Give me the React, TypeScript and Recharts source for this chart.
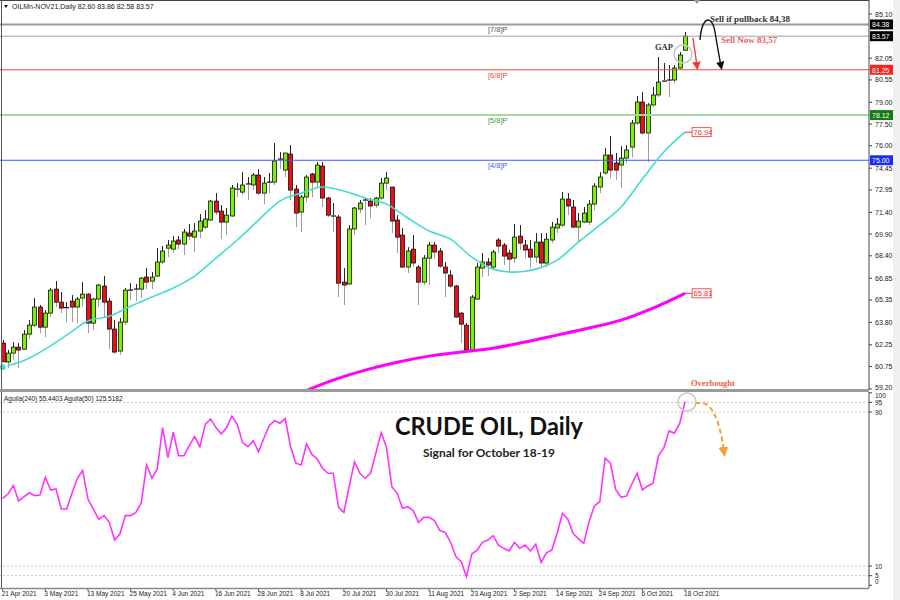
import React from 'react';
import {
  ComposedChart, Bar, Line, XAxis, YAxis, ReferenceLine, ReferenceDot,
} from 'recharts';

// x axis labels, one every 8 sessions
const DATE_TICKS = [
  '21 Apr 2021', '3 May 2021', '13 May 2021', '25 May 2021', '4 Jun 2021', '16 Jun 2021',
  '28 Jun 2021', '8 Jul 2021', '20 Jul 2021', '30 Jul 2021', '11 Aug 2021', '23 Aug 2021',
  '2 Sep 2021', '14 Sep 2021', '24 Sep 2021', '6 Oct 2021', '18 Oct 2021',
];

const OPEN = [
  62.37, 61.06, 61.68, 62.09, 61.95, 62.99, 63.61, 64.86, 63.47, 64.44, 66.10, 65.20, 64.79, 65.27, 64.86, 65.48,
  65.75, 63.75, 65.41, 66.31, 65.27, 63.34, 61.82, 63.82, 65.96, 66.03, 66.10, 66.93, 66.65, 67.00, 67.97, 68.93,
  68.86, 69.49, 69.21, 69.97, 69.69, 70.11, 70.38, 70.87, 72.18, 71.49, 70.73, 71.15, 73.08, 72.80, 73.29, 73.29,
  73.98, 72.73, 73.42, 73.49, 75.01, 74.32, 75.43, 73.01, 71.42, 72.46, 74.05, 73.49, 74.60, 72.39, 71.21, 71.08,
  66.58, 66.45, 70.25, 71.63, 72.18, 72.18, 71.90, 72.39, 73.42, 73.15, 70.87, 69.83, 67.62, 68.86, 67.62, 66.58,
  68.24, 69.14, 68.73, 67.62, 67.07, 66.31, 64.44, 63.61, 61.89, 65.41, 67.55, 67.97, 67.62, 69.49, 69.14, 68.59,
  68.24, 69.76, 69.14, 68.86, 68.31, 69.35, 67.90, 69.49, 70.32, 70.52, 72.32, 71.77, 70.38, 70.73, 70.73, 71.97,
  73.15, 74.12, 75.36, 74.81, 74.67, 75.15, 75.91, 77.57, 79.02, 76.88, 78.82, 79.51, 80.54, 80.47, 80.54, 81.37,
  82.60,
];
const HIGH = [
  62.58, 61.89, 62.44, 62.37, 63.27, 63.96, 65.48, 65.00, 64.65, 66.17, 66.65, 65.89, 65.20, 65.69, 65.55, 66.58,
  65.82, 65.48, 66.45, 67.00, 65.48, 63.96, 64.10, 66.17, 66.51, 66.45, 66.93, 67.55, 67.27, 68.93, 69.07, 69.49,
  69.76, 69.76, 70.25, 70.59, 70.66, 71.28, 71.56, 72.25, 72.73, 71.90, 71.70, 73.29, 73.42, 74.18, 73.84, 74.12,
  74.39, 73.84, 74.12, 76.19, 75.57, 75.50, 76.05, 73.29, 72.60, 73.98, 74.12, 74.88, 74.88, 72.46, 72.04, 71.21,
  67.55, 70.52, 71.77, 72.25, 72.39, 72.39, 72.46, 73.77, 74.18, 73.15, 71.21, 70.32, 69.00, 69.83, 67.76, 68.45,
  69.35, 69.35, 68.93, 67.97, 67.41, 66.38, 64.51, 63.75, 65.69, 67.90, 68.59, 68.24, 68.80, 69.62, 69.28, 68.80,
  70.59, 70.52, 69.49, 69.49, 69.97, 69.97, 69.97, 70.73, 71.01, 72.80, 72.73, 72.25, 71.35, 71.77, 72.25, 73.42,
  74.18, 75.84, 76.67, 75.50, 75.98, 76.05, 77.78, 79.44, 79.71, 78.95, 80.06, 82.13, 81.72, 81.58, 81.58, 82.48,
  83.86,
];
const LOW = [
  60.99, 60.64, 61.19, 60.64, 61.89, 62.65, 63.47, 63.06, 62.78, 64.17, 64.86, 64.44, 63.82, 63.82, 63.75, 64.92,
  63.06, 63.27, 64.86, 64.10, 61.95, 61.61, 61.54, 63.61, 65.34, 65.27, 65.48, 66.10, 66.10, 66.93, 67.83, 68.31,
  68.59, 68.86, 68.45, 69.49, 68.66, 69.62, 70.25, 70.80, 71.21, 69.55, 69.83, 71.08, 72.46, 72.60, 72.25, 72.94,
  72.60, 71.97, 72.73, 73.29, 74.39, 73.84, 72.25, 70.38, 70.04, 72.11, 72.46, 73.08, 71.77, 71.08, 70.04, 65.55,
  65.00, 66.38, 69.83, 71.35, 70.52, 71.01, 71.70, 72.25, 72.94, 69.97, 68.59, 67.55, 67.21, 67.62, 65.00, 66.38,
  66.38, 68.24, 67.55, 65.55, 66.17, 64.10, 62.37, 61.82, 61.75, 65.34, 66.93, 67.00, 67.41, 68.59, 67.76, 67.21,
  67.90, 68.80, 68.24, 67.55, 67.90, 67.55, 67.62, 69.28, 69.97, 70.38, 71.21, 70.32, 69.35, 70.66, 70.52, 71.56,
  72.73, 73.98, 73.77, 73.63, 73.08, 74.81, 75.22, 77.43, 76.74, 74.88, 78.68, 79.37, 80.40, 79.37, 80.33, 81.23,
  82.58,
];
const CLOSE = [
  61.06, 61.68, 62.09, 61.89, 62.99, 63.61, 64.86, 63.47, 64.44, 66.03, 65.20, 64.79, 64.82, 64.86, 65.41, 65.75,
  63.75, 65.41, 66.38, 65.20, 63.34, 61.75, 63.82, 66.03, 66.03, 66.10, 66.86, 66.58, 66.93, 67.97, 68.73, 69.14,
  69.42, 69.21, 70.04, 69.76, 70.11, 70.80, 70.94, 72.18, 71.42, 70.73, 71.21, 73.08, 73.01, 73.29, 73.36, 73.98,
  72.73, 73.42, 73.49, 74.95, 75.08, 75.50, 72.94, 71.35, 72.46, 73.84, 73.49, 74.67, 72.39, 71.21, 71.15, 66.51,
  66.38, 70.25, 71.70, 72.04, 72.25, 71.84, 72.39, 73.42, 73.77, 70.80, 69.69, 67.62, 68.73, 67.90, 66.58, 68.24,
  69.14, 68.66, 67.69, 67.21, 66.31, 64.17, 63.68, 61.89, 65.55, 67.62, 67.97, 67.76, 68.66, 69.07, 68.38, 68.17,
  69.69, 69.28, 68.80, 68.31, 69.35, 67.90, 69.55, 70.38, 70.59, 72.32, 71.84, 70.38, 70.80, 71.35, 71.97, 73.22,
  73.84, 75.36, 74.32, 74.32, 75.15, 75.71, 77.57, 79.02, 76.88, 78.82, 79.51, 80.40, 80.47, 80.54, 81.37, 82.27,
  83.57,
];

// moving averages read at sampled sessions [session, value]
const MA_FAST: [number, number][] = [
  [0, 60.71], [4, 61.16], [8, 61.95], [12, 62.92], [16, 63.89], [20, 64.23], [24, 64.92], [28, 65.55],
  [32, 66.17], [36, 67.0], [40, 68.24], [44, 69.49], [48, 70.87], [52, 72.18], [56, 72.73], [60, 73.15],
  [64, 72.87], [68, 72.39], [72, 71.97], [76, 71.01], [80, 70.11], [84, 69.55], [88, 68.31], [92, 67.48],
  [96, 67.27], [100, 67.48], [104, 68.1], [108, 69.35], [112, 70.52], [116, 71.77], [120, 73.7], [124, 75.57],
  [128, 76.94],
];
const MA_SLOW: [number, number][] = [
  [56, 58.95], [62, 59.81], [68, 60.5], [74, 61.05], [80, 61.47], [86, 61.75], [92, 62.02], [98, 62.44],
  [104, 62.92], [110, 63.41], [116, 63.96], [122, 64.79], [128, 65.81],
];

const AGUILA = [
  45.2, 47.4, 51.8, 43.8, 46.0, 48.1, 46.6, 46.9, 56.1, 49.5, 50.0, 39.6, 39.6, 47.8, 55.6, 59.6,
  44.8, 39.6, 34.4, 36.2, 32.7, 23.5, 26.6, 36.2, 36.2, 37.9, 42.9, 62.5, 55.6, 60.4, 81.9, 66.3,
  79.5, 67.3, 67.3, 72.5, 77.2, 72.0, 83.6, 86.4, 81.9, 78.6, 81.9, 87.9, 83.6, 74.1, 72.0, 75.1,
  69.4, 76.4, 82.9, 85.5, 84.2, 86.6, 72.0, 63.4, 62.5, 73.4, 68.0, 65.6, 60.8, 58.2, 58.2, 40.5,
  37.9, 51.2, 64.2, 58.2, 55.6, 58.2, 68.6, 79.3, 71.7, 51.2, 47.8, 40.0, 40.8, 38.8, 32.7, 35.3,
  35.3, 33.6, 28.4, 27.5, 22.5, 14.9, 12.3, 4.5, 16.3, 18.3, 22.3, 23.5, 25.8, 20.9, 19.2, 17.8,
  22.3, 19.2, 20.9, 17.8, 21.3, 11.9, 16.9, 18.3, 27.0, 37.4, 34.3, 27.0, 24.1, 21.8, 33.1, 41.2,
  43.4, 66.0, 63.4, 49.5, 45.7, 46.4, 52.5, 58.2, 49.5, 51.6, 53.0, 67.3, 71.2, 80.2, 79.0, 84.2,
  95.4,
];

const PRICE_TICKS = [85.1, 82.05, 80.55, 79.0, 77.5, 76.0, 74.45, 72.95, 71.4, 69.9, 68.4, 66.85, 65.35, 63.8, 62.25, 60.75, 59.2];
const OSC_TICKS = [100, 95, 90, 10, 5, 0];
const OSC_LEVELS = [95, 90, 10, 5];

const MURREY_VALUES = [84.38, 81.25, 78.12, 75.0];
const MURREY_NAMES = ['[7/8]P', '[6/8]P', '[5/8]P', '[4/8]P'];
const BID = 83.57;

const MURREY_LINE = ['#9a9a9a', '#f04646', '#a9d6a9', '#3a5cff'];
const MURREY_LINE_W = [2, 1, 2, 1];
const MURREY_TEXT = ['#555', '#f04646', '#3c9a3c', '#3a5cff'];
const MURREY_TAG = ['#000', '#ff2020', '#127a12', '#1a2cff'];

const SLOTS = 163; // sessions + empty shift area on the right
const FONT = '"Liberation Sans", Arial, sans-serif';
const SERIF = '"Liberation Serif", "Times New Roman", serif';

const rows = Array.from({ length: SLOTS }, (_, i) => {
  const has = i < CLOSE.length;
  return {
    idx: i,
    range: has ? [LOW[i], HIGH[i]] : null,
    open: has ? OPEN[i] : null,
    high: has ? HIGH[i] : null,
    low: has ? LOW[i] : null,
    close: has ? CLOSE[i] : null,
    maFast: null as number | null,
    maSlow: null as number | null,
    osc: has ? AGUILA[i] : null,
  };
});
MA_FAST.forEach(([i, v]) => { rows[i].maFast = v; });
MA_SLOW.forEach(([i, v]) => { rows[i].maSlow = v; });

function Candle(props: any) {
  const { x, y, width, height, payload } = props;
  if (!payload || payload.open == null || !isFinite(y)) return <g />;
  const { open, close, high, low } = payload;
  const top = Math.min(y, y + height);
  const h = Math.abs(height);
  const span = high - low || 1;
  const py = (v: number) => top + ((high - v) / span) * h;
  const cx = Math.round(x + width / 2) + 0.5;
  const yO = py(open);
  const yC = py(close);
  const bTop = Math.min(yO, yC);
  const bBot = Math.max(yO, yC);
  const doji = Math.abs(close - open) < 0.09;
  const up = close >= open;
  return (
    <g>
      <line x1={cx} x2={cx} y1={top} y2={bTop} stroke="#222" strokeWidth={1} />
      <line x1={cx} x2={cx} y1={bBot} y2={top + h} stroke="#9c9c9c" strokeWidth={1} />
      {doji ? (
        <line x1={cx - 2.5} x2={cx + 2.5} y1={yC} y2={yC} stroke="#111" strokeWidth={1.2} />
      ) : (
        <rect x={cx - 2} y={bTop} width={4} height={Math.max(bBot - bTop, 1)}
          fill={up ? '#7cf000' : '#e8101a'} stroke="#111" strokeWidth={0.8} />
      )}
    </g>
  );
}

const levelLabel = (k: number) => (props: any) => {
  const vb = props.viewBox || {};
  const { x = 0, y = 0, width = 0 } = vb;
  return (
    <g>
      <text x={x + 488} y={y + 8} fontSize={7.5} fill={MURREY_TEXT[k]} fontFamily={FONT}>{MURREY_NAMES[k]}</text>
      <rect x={x + width + 1} y={y - 5} width={24} height={10} fill={MURREY_TAG[k]} />
      <text x={x + width + 3} y={y + 3} fontSize={7} fill="#fff" fontFamily={FONT}>{MURREY_VALUES[k].toFixed(2)}</text>
    </g>
  );
};

const bidLabel = (props: any) => {
  const { x = 0, y = 0, width = 0 } = props.viewBox || {};
  return (
    <g>
      <rect x={x + width + 1} y={y - 5} width={24} height={10} fill="#000" />
      <text x={x + width + 3} y={y + 3} fontSize={7} fill="#fff" fontFamily={FONT}>{BID.toFixed(2)}</text>
    </g>
  );
};

const maTag = (value: number) => (props: any) => {
  const { x = 0, y = 0 } = props.viewBox || {};
  return (
    <g>
      <line x1={x} x2={x + 7} y1={y} y2={y} stroke="#f03030" />
      <rect x={x + 7} y={y - 4.5} width={19} height={9} fill="#fff" stroke="#f03030" strokeWidth={0.8} />
      <text x={x + 8.5} y={y + 3} fontSize={7.5} fill="#f03030" fontFamily={FONT}>{value.toFixed(2)}</text>
    </g>
  );
};

const PriceTick = (props: any) => {
  const { x, y, payload } = props;
  const v = Number(payload.value);
  const dy = v < 59.5 ? 1.5 : 2.5;
  return (
    <text x={x + 1} y={y + dy} fontSize={7} fill="#222" fontFamily={FONT}>{v.toFixed(2)}</text>
  );
};

const OscTick = (props: any) => {
  const { x, y, payload } = props;
  const v = payload.value;
  const dy = v === 100 ? 5 : v === 0 ? -1 : 2.5;
  return (
    <text x={x + 1} y={y + dy} fontSize={6.5} fill="#222" fontFamily={FONT}>{v}</text>
  );
};

const DateTick = (props: any) => {
  const { x, y, payload } = props;
  const i = Number(payload.value);
  if (i % 8 !== 0 || i > 128) return <g />;
  return (
    <g>
      <line x1={x} x2={x} y1={y - 8} y2={y - 5} stroke="#555" />
      <text x={x - 1} y={y - 0.5} fontSize={6.5} fill="#222" fontFamily={FONT}>{DATE_TICKS[i / 8]}</text>
    </g>
  );
};

export default function App() {
  const last = CLOSE.length - 1;
  return (
    <div style={{ position: 'relative', width: 900, height: 600, background: '#fff', overflow: 'hidden' }}>
      <style>{'body{margin:0} .recharts-surface{overflow:visible}'}</style>
      <div style={{ position: 'absolute', left: 0, top: 390 }}>
        <ComposedChart width={900} height={210} data={rows} barCategoryGap={0}
          margin={{ top: 2, right: 0, bottom: 0, left: 0 }}>
          <XAxis dataKey="idx" scale="band" interval={7} height={12} tick={<DateTick />}
            tickLine={false} axisLine={false} />
          <YAxis orientation="right" width={31} domain={[-1.4, 100.4]} allowDataOverflow
            ticks={OSC_TICKS} interval={0} tick={<OscTick />} tickSize={3}
            axisLine={{ stroke: '#444' }} tickLine={{ stroke: '#444' }} />
          {OSC_LEVELS.map((v) => (
            <ReferenceLine key={v} y={v} stroke="#c4c4c4" strokeDasharray="2 2" />
          ))}
          <Line dataKey="osc" type="linear" stroke="#ff33ff" strokeWidth={1.6} dot={false}
            isAnimationActive={false} />
        </ComposedChart>
      </div>
      <div style={{ position: 'absolute', left: 0, top: 0 }}>
        <ComposedChart width={900} height={390} data={rows} barCategoryGap={0}
          margin={{ top: 0, right: 0, bottom: 0, left: 0 }}>
          <XAxis dataKey="idx" hide />
          <YAxis orientation="right" width={31} domain={[59.13, 86.07]} allowDataOverflow
            ticks={PRICE_TICKS} interval={0} tick={<PriceTick />} tickSize={3}
            axisLine={{ stroke: '#444' }} tickLine={{ stroke: '#444' }} />
          {MURREY_VALUES.map((v, k) => (
            <ReferenceLine key={v} y={v} stroke={MURREY_LINE[k]} strokeWidth={MURREY_LINE_W[k]} label={levelLabel(k)} />
          ))}
          <ReferenceLine y={BID} stroke="#9aa4ae" strokeWidth={1} label={bidLabel} />
          <Bar dataKey="range" shape={<Candle />} isAnimationActive={false} />
          <Line dataKey="maFast" type="monotone" stroke="#42ddd0" strokeWidth={1.6} dot={false}
            connectNulls isAnimationActive={false} />
          <Line dataKey="maSlow" type="monotone" stroke="#ff00ff" strokeWidth={3} dot={false}
            connectNulls isAnimationActive={false} />
          <ReferenceDot x={last} y={MA_FAST[MA_FAST.length - 1][1]} r={0} fill="none" stroke="none"
            label={maTag(MA_FAST[MA_FAST.length - 1][1])} />
          <ReferenceDot x={last} y={MA_SLOW[MA_SLOW.length - 1][1]} r={0} fill="none" stroke="none"
            label={maTag(MA_SLOW[MA_SLOW.length - 1][1])} />
        </ComposedChart>
      </div>
      <svg width={900} height={600} style={{ position: 'absolute', left: 0, top: 0, pointerEvents: 'none' }}>
        <defs>
          <marker id="ahRed" viewBox="0 0 10 10" refX="5" refY="5" markerWidth="6" markerHeight="6" orient="auto-start-reverse">
            <path d="M0,0 L10,5 L0,10 z" fill="#f03c3c" />
          </marker>
          <marker id="ahBlack" viewBox="0 0 10 10" refX="5" refY="5" markerWidth="6" markerHeight="6" orient="auto-start-reverse">
            <path d="M0,0 L10,5 L0,10 z" fill="#111" />
          </marker>
          <marker id="ahOrange" viewBox="0 0 10 10" refX="5" refY="5" markerWidth="5" markerHeight="5" orient="auto-start-reverse">
            <path d="M0,0 L10,5 L0,10 z" fill="#f5a030" />
          </marker>
        </defs>
        {/* frame */}
        <line x1={0} x2={869} y1={0.5} y2={0.5} stroke="#444" />
        <line x1={1.5} x2={1.5} y1={0} y2={589} stroke="#555" />
        <rect x={0} y={389} width={869} height={3} fill="#9a9a9a" />
        <line x1={0} x2={869} y1={588.5} y2={588.5} stroke="#888" strokeWidth={1.5} />
        <rect x={893} y={0} width={7} height={600} fill="#f0f0f0" />
        <path d="M694,0 L700,0 L697,4 z" fill="#8a9aaa" />
        {/* header */}
        <path d="M4,5 L8,5 L6,8 z" fill="#111" />
        <text x={12} y={9} fontSize={7} fill="#222" fontFamily={FONT}>OILMn-NOV21,Daily  82.60 83.86 82.58 83.57</text>
        <text x={4} y={400.5} fontSize={6.5} fill="#222" fontFamily={FONT}>Aguila(240) 55.4403   Aguila(50) 125.5182</text>
        {/* annotations upper */}
        <text x={655} y={50} fontSize={8.5} fontWeight="bold" fill="#333" fontFamily={SERIF}>GAP</text>
        <circle cx={683} cy={54} r={9} fill="none" stroke="#c8c8c8" strokeWidth={1.5} />
        <text x={710} y={21.5} fontSize={9} fontWeight="bold" fill="#333" fontFamily={SERIF}>Sell if pullback 84,38</text>
        <text x={721} y={43} fontSize={9} fontWeight="bold" fill="#f25a5a" fontFamily={SERIF}>Sell Now 83,57</text>
        <line x1={693} y1={38} x2={697} y2={66} stroke="#f03c3c" strokeWidth={1.4} markerEnd="url(#ahRed)" />
        <path d="M700,40 C702,16 712,14 715,32 C717,44 719,56 721,66" fill="none" stroke="#111" strokeWidth={1.4}
          markerEnd="url(#ahBlack)" />
        <text x={691} y={386} fontSize={8.5} fontWeight="bold" fill="#f06040" fontFamily={SERIF}>Overbought</text>
        {/* annotations lower */}
        <circle cx={687} cy={402} r={9} fill="none" stroke="#c8c8c8" strokeWidth={1.5} />
        <path d="M695,403 L703,403 C712,405 720,420 724,452" fill="none" stroke="#f5a030" strokeWidth={2}
          strokeDasharray="5 3" markerEnd="url(#ahOrange)" />
        <text x={395} y={435} fontSize={25} fontWeight="bold" fill="#111" fontFamily="Lato, sans-serif"
          textLength={188} lengthAdjust="spacingAndGlyphs">CRUDE OIL, Daily</text>
        <text x={423} y={457} fontSize={12} fontWeight="bold" fill="#222" fontFamily="Lato, sans-serif"
          textLength={132} lengthAdjust="spacingAndGlyphs">Signal for October 18-19</text>
      </svg>
    </div>
  );
}
